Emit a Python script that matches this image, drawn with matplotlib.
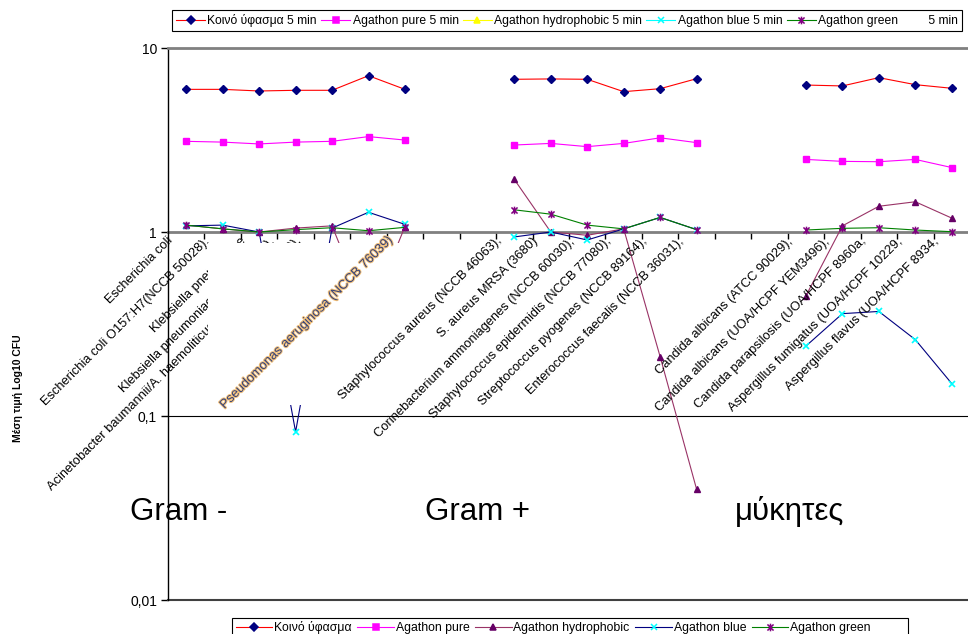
import numpy as np
import matplotlib
matplotlib.use("Agg")
import matplotlib.pyplot as plt
import matplotlib.transforms as mtransforms
import matplotlib.patheffects as pe
from matplotlib.lines import Line2D
from matplotlib.patches import Rectangle
from matplotlib.path import Path

plt.rcParams['font.family'] = ['Liberation Sans', 'DejaVu Sans']

nan = np.nan

# category labels (empty slots separate the three groups)
categories = [
    "Escherichia coli",
    "Escherichia coli O157:H7(NCCB 50028),",
    "Klebsiella pneumoniae",
    "Klebsiella pneumoniae (NCCB 3014),",
    "Acinetobacter baumannii/A. haemoliticus (UOA/HCPF 11223),",
    "",
    "Pseudomonas aeruginosa (NCCB 76039)",
    "", "",
    "Staphylococcus aureus (NCCB 46063),",
    "S. aureus MRSA (3680)",
    "Corinebacterium ammoniagenes (NCCB 60030),",
    "Staphylococcus epidermidis (NCCB 77080),",
    "Streptococcus pyogenes (NCCB 89164),",
    "Enterococcus faecalis (NCCB 36031),",
    "", "",
    "Candida albicans (ATCC 90029),",
    "Candida albicans (UOA/HCPF YEM3496),",
    "Candida parapsilosis (UOA/HCPF 8960a,",
    "Aspergillus fumigatus (UOA/HCPF 10229,",
    "Aspergillus flavus (UOA/HCPF 8934,",
]

koino = [5.96, 5.96, 5.84, 5.89, 5.89, 7.07, 5.96, nan, nan,
         6.76, 6.79, 6.76, 5.79, 6.01, 6.81, nan, nan,
         6.29, 6.22, 6.90, 6.32, 6.04]
agathon_pure = [3.11, 3.08, 3.01, 3.08, 3.11, 3.30, 3.16, nan, nan,
                2.97, 3.03, 2.91, 3.03, 3.25, 3.06, nan, nan,
                2.48, 2.42, 2.41, 2.48, 2.24]
agathon_hydrophobic = [1.09, 1.04, 1.00, 1.05, 1.08, 0.35, 1.07, nan, nan,
                       1.93, 1.00, 0.96, 1.04, 0.21, 0.04, nan, nan,
                       0.45, 1.08, 1.38, 1.46, 1.19]
agathon_blue = [1.08, 1.09, 1.00, 0.082, 1.05, 1.28, 1.10, nan, nan,
                0.94, 1.00, 0.905, 1.04, 1.20, 1.03, nan, nan,
                0.24, 0.36, 0.37, 0.26, 0.15]
agathon_green = [1.09, 1.04, 1.00, 1.03, 1.055, 1.016, 1.06, nan, nan,
                 1.32, 1.25, 1.09, 1.04, 1.20, 1.03, nan, nan,
                 1.025, 1.047, 1.055, 1.025, 1.004]

yticks = [0.01, 0.1, 1, 10]
ytick_labels = ["0,01", "0,1", "1", "10"]

groups = ["Gram -", "Gram +", "μύκητες"]
group_x = [130, 425, 735]

legend_top = ["Κοινό ύφασμα 5 min", "Agathon pure 5 min", "Agathon hydrophobic 5 min",
              "Agathon blue 5 min", "Agathon green         5 min"]
legend_bottom = ["Κοινό ύφασμα", "Agathon pure", "Agathon hydrophobic",
                 "Agathon blue", "Agathon green          "]

W, H = 968, 634
fig = plt.figure(figsize=(W / 100, H / 100), dpi=100)
ax = fig.add_axes([168 / W, 34 / H, 802 / W, 552 / H])

# Excel style star marker: an x with a vertical bar
star = Path([(-1, -1), (1, 1), (-1, 1), (1, -1), (0, -1.25), (0, 1.25)],
            [Path.MOVETO, Path.LINETO, Path.MOVETO, Path.LINETO, Path.MOVETO, Path.LINETO])

x = np.arange(len(categories))
lw = 0.8
ax.plot(x, koino, color='#FF0000', lw=lw, marker='D', ms=4.5, mfc='#000080', mec='#000080', zorder=5)
ax.plot(x, agathon_pure, color='#FF00FF', lw=lw, marker='s', ms=4.5, mfc='#FF00FF', mec='#FF00FF', zorder=5)
ax.plot(x, agathon_hydrophobic, color='#993366', lw=lw, marker='^', ms=5, mfc='#660066', mec='#660066', zorder=5)
ax.plot(x, agathon_blue, color='#000080', lw=lw, marker='x', ms=5, mec='#00FFFF', mew=1.2, zorder=5)
ax.plot(x, agathon_green, color='#008000', lw=lw, marker=star, ms=5.5, mec='#800080', mfc='none', mew=1.1, zorder=5)

ax.set_yscale('log')
ax.set_ylim(0.01, 10)
ax.set_xlim(-0.5, len(categories) - 0.5)

ax.set_yticks(yticks)
ax.set_yticklabels(ytick_labels, fontsize=10)
ax.yaxis.set_minor_locator(matplotlib.ticker.NullLocator())
ax.tick_params(axis='y', direction='out', length=5, width=1, pad=3)
ax.yaxis.grid(True, which='major', color='black', lw=0.8)
ax.set_axisbelow(True)

# category axis crosses the value axis at 1
ax.spines['bottom'].set_position(('data', 1))
ax.spines['bottom'].set_color('#808080')
ax.spines['bottom'].set_linewidth(2)
ax.spines['bottom'].set_zorder(2)
ax.set_xticks(np.arange(0.5, len(categories) - 0.4, 1))
ax.set_xticklabels([])
ax.tick_params(axis='x', direction='out', length=5, width=1, color='black')
ax.spines['top'].set_color('#808080')
ax.spines['top'].set_linewidth(2)
ax.spines['right'].set_visible(False)
ax.spines['left'].set_linewidth(1)
ax.axhline(0.01, color='#404040', lw=1.5, zorder=2, clip_on=False)

# rotated category labels hanging from the axis; the crowded Gram - labels
# sit a little closer together
label_shift = {3: -8, 4: -18}
for i, lab in enumerate(categories):
    if not lab:
        continue
    kw = {}
    if lab.startswith("Pseudomonas"):
        kw = dict(color='#34427a',
                  path_effects=[pe.withStroke(linewidth=1.4, foreground='#f3c27c')])
    tr = mtransforms.offset_copy(ax.transData, fig=fig, x=-19 + label_shift.get(i, 0),
                                 y=-3, units='dots')
    ax.text(i, 1, lab, rotation=45, rotation_mode='anchor', ha='right', va='top',
            fontsize=9.3, transform=tr, clip_on=False,
            zorder=7 if i >= 6 else 4, **kw)

# white panel over part of the Gram - area
ax.add_patch(Rectangle((0.6, 0.115), 6.1, 0.87 - 0.115, transform=ax.transData,
                       facecolor='white', edgecolor='none', zorder=6, clip_on=False))

fig.text(18 / W, 1 - 388 / H, "Μέση τιμή Log10 CFU", rotation=90, fontsize=7.5,
         fontweight='bold', ha='center', va='center')

for g, gx in zip(groups, group_x):
    fig.text(gx / W, 1 - 520 / H, g, fontsize=22.5, ha='left', va='baseline')

def handles(colors):
    out = []
    for (lc, mk, mfc, mec, ms) in colors:
        out.append(Line2D([], [], color=lc, lw=lw, marker=mk, ms=ms, mfc=mfc, mec=mec, mew=1.1))
    return out

top_h = handles([('#FF0000', 'D', '#000080', '#000080', 4.5),
                 ('#FF00FF', 's', '#FF00FF', '#FF00FF', 4.5),
                 ('#FFFF00', '^', '#FFFF00', '#FFFF00', 5),
                 ('#00FFFF', 'x', '#00FFFF', '#00FFFF', 5),
                 ('#008000', star, 'none', '#800080', 5.5)])
bot_h = handles([('#FF0000', 'D', '#000080', '#000080', 4.5),
                 ('#FF00FF', 's', '#FF00FF', '#FF00FF', 4.5),
                 ('#993366', '^', '#660066', '#660066', 5),
                 ('#000080', 'x', '#00FFFF', '#00FFFF', 5),
                 ('#008000', star, 'none', '#800080', 5.5)])

l1 = fig.legend(top_h, legend_top, bbox_to_anchor=(567 / W, 1 - 20.5 / H), ncol=5,
                loc='center', frameon=True, fancybox=False, edgecolor='black',
                framealpha=1, fontsize=8.7, handlelength=2.4, handletextpad=0.2,
                columnspacing=0.35, borderpad=0.3, borderaxespad=0)
l1.get_frame().set_linewidth(0.8)
l2 = fig.legend(bot_h, legend_bottom, bbox_to_anchor=(570 / W, 1 - 628 / H), ncol=5,
                loc='center', frameon=True, fancybox=False, edgecolor='black',
                framealpha=1, fontsize=8.8, handlelength=3.0, handletextpad=0.15,
                columnspacing=0.45, borderpad=0.3, borderaxespad=0)
l2.get_frame().set_linewidth(0.8)

fig.savefig("out.png", dpi=100)
